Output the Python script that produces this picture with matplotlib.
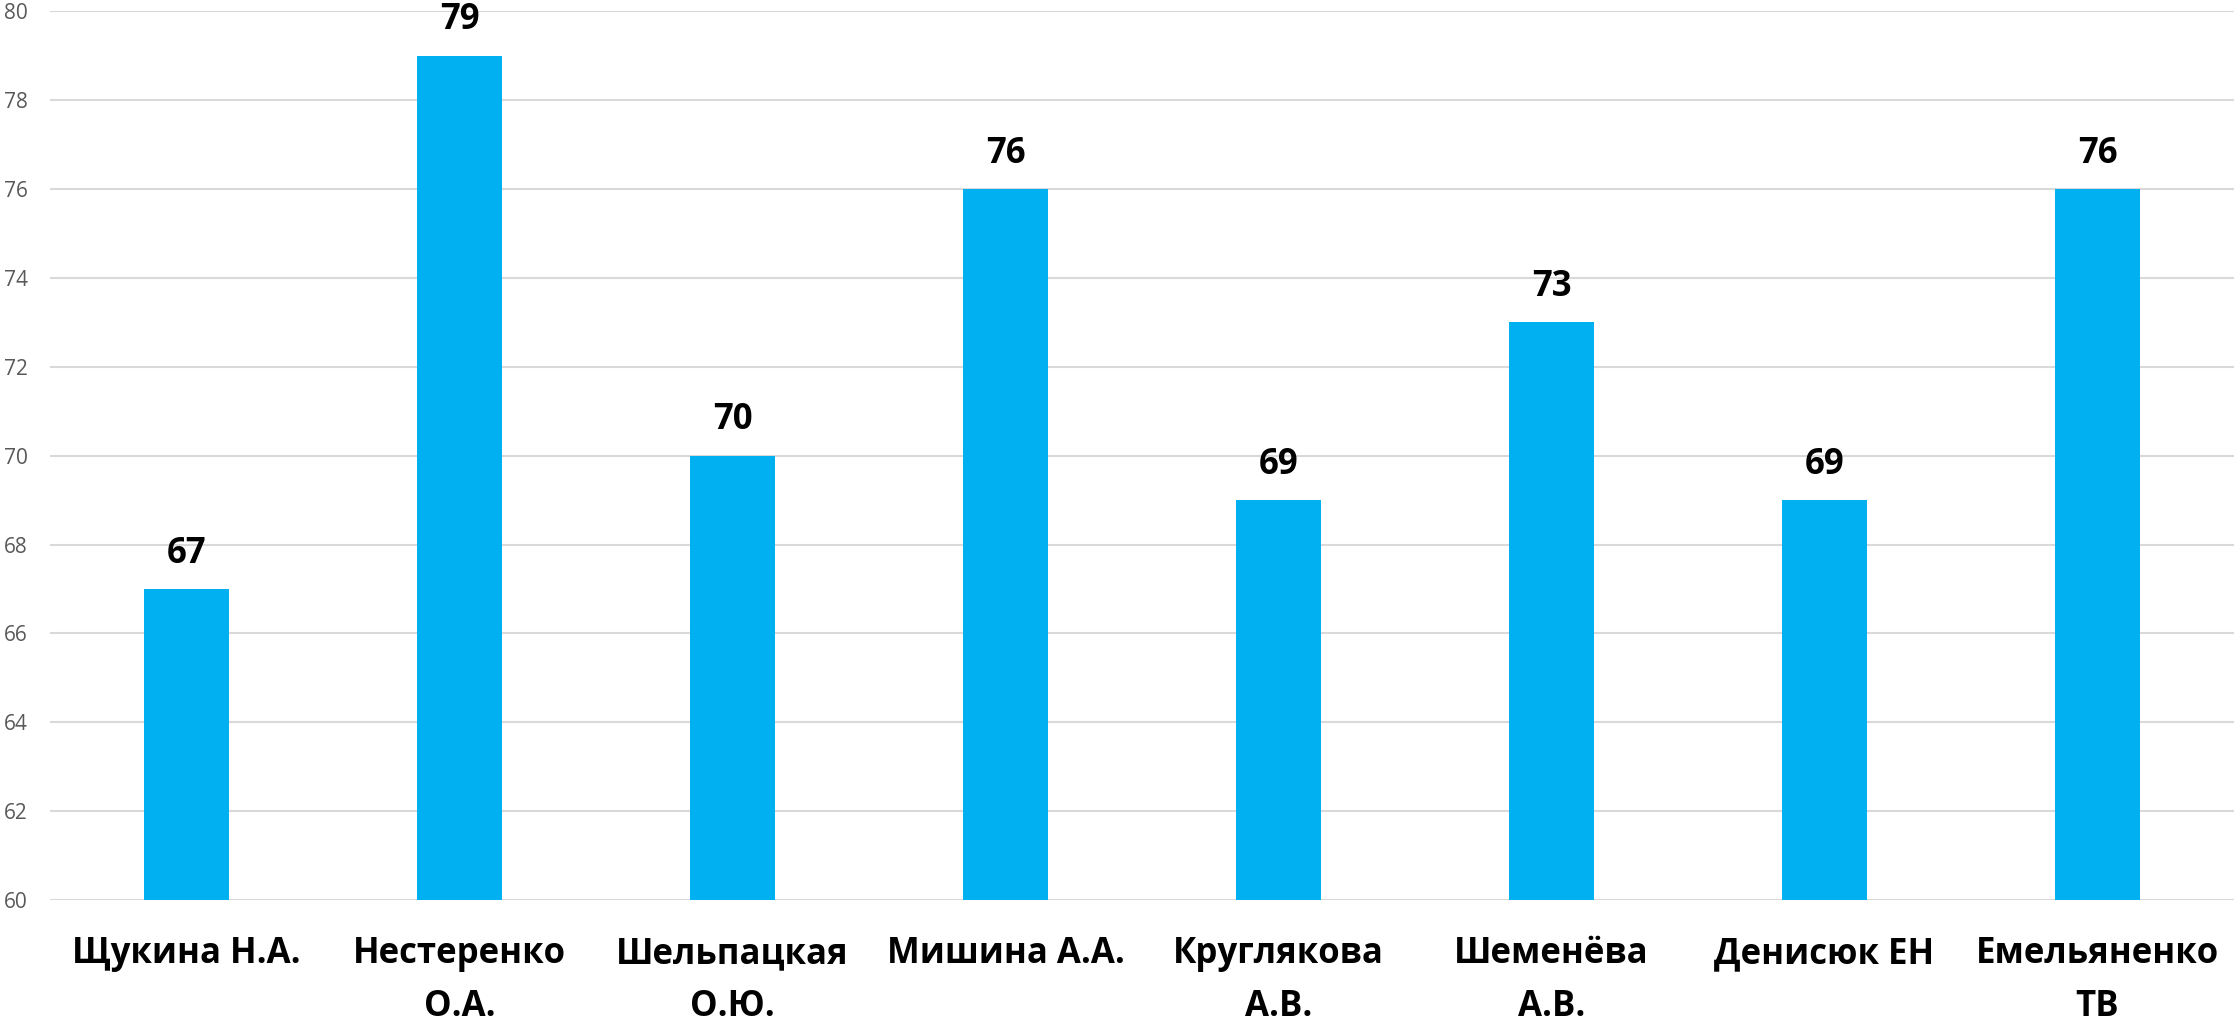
import matplotlib.pyplot as plt
import numpy as np

# data
names = ['Щукина Н.А.', 'Нестеренко\nО.А.', 'Шельпацкая\nО.Ю.', 'Мишина А.А.',
         'Круглякова\nА.В.', 'Шеменёва\nА.В.', 'Денисюк ЕН', 'Емельяненко\nТВ']
scores = [67, 79, 70, 76, 69, 73, 69, 76]
y_ticks = [60, 62, 64, 66, 68, 70, 72, 74, 76, 78, 80]

plt.rcParams['font.family'] = ['Open Sans', 'DejaVu Sans']

fig = plt.figure(figsize=(22.34, 10.24), dpi=100)
ax = fig.add_axes([0.0224, 0.121, 0.9776, 0.868])

x = np.arange(len(names))
ax.bar(x, scores, width=0.313, color='#00B0F0', zorder=2)

# value labels above bars
for xi, v in zip(x, scores):
    ax.annotate(str(v), (xi, v), xytext=(0, 19), textcoords='offset points',
                ha='center', va='baseline', fontsize=25, fontweight='bold', color='black')

ax.set_xlim(-0.5, len(names) - 0.5)
ax.set_ylim(60, 80)
ax.set_yticks(y_ticks)
ax.set_xticks(x)
ax.set_xticklabels(names, fontsize=25, fontweight='bold', linespacing=1.62)
ax.tick_params(axis='x', length=0, pad=26)
ax.tick_params(axis='y', length=0, pad=0, labelsize=15, labelcolor='#595959')
for lbl in ax.get_yticklabels():
    lbl.set_horizontalalignment('left')
    lbl.set_transform(ax.get_yaxis_transform())
    lbl.set_x(-0.021)

ax.grid(axis='y', color='#d9d9d9', linewidth=1.5, zorder=0)
for s in ax.spines.values():
    s.set_visible(False)

plt.savefig('out.png', dpi=100)
